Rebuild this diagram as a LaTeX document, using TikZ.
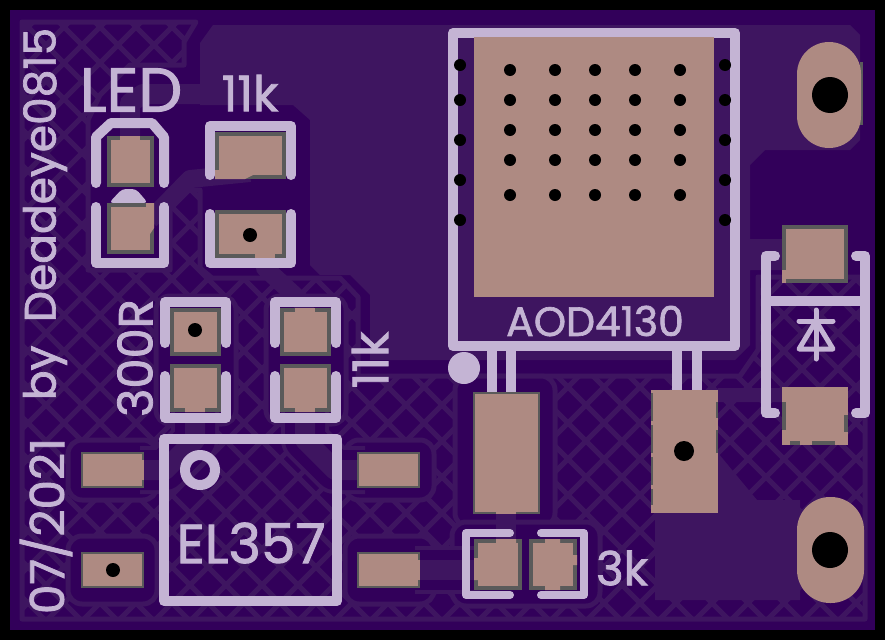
\documentclass[tikz,border=0pt]{standalone}
\usepackage{fontspec}
\setsansfont{Poppins}[FakeBold=1.6]
\usetikzlibrary{calc}
\definecolor{boardcol}{HTML}{32005A}
\definecolor{zonecol}{HTML}{3E1560}
\definecolor{padcu}{HTML}{AE8A82}
\definecolor{padgray}{HTML}{5A5A5A}
\definecolor{silkcol}{HTML}{C4B4D4}
\tikzset{
	silkline/.style={draw=silkcol, line width=10pt, line cap=round, line join=round},
	silktext/.style={text=silkcol, inner sep=0pt, font=\sffamily\fontsize{#1}{#1}\selectfont},
	drillhole/.style={fill=black},
	zonefill/.style={fill=zonecol},
	zoneedge/.style={draw=zonecol, line width=5pt, fill=boardcol, line join=round},
}
% pad with gray mask ring: x1,y1,x2,y2,ring
\newcommand{\smdpad}[5]{%
	\fill[padgray] (#1,#2) rectangle (#3,#4);
	\fill[padcu] ([shift={(#5,#5)}]#1,#2) rectangle ([shift={(-#5,-#5)}]#3,#4);
}
% trace with its clearance
\newcommand{\zonetrace}[2]{%
	\draw[line width=#1pt, zonecol, line join=round] #2;
}
\newcommand{\cleartrace}[2]{%
	\draw[line width=#1pt+28pt, zonecol, line join=round] #2;
	\draw[line width=#1pt+20pt, boardcol, line join=round] #2;
	\draw[line width=#1pt, zonecol, line join=round] #2;
}
\newcommand{\hatchedge}{(22,22) -- (196,22) -- (184,42) -- (184,65) -- (130,65) -- (100,95) -- (88,120) -- (88,270)
	-- (170,270) -- (170,190) -- (200,190) -- (200,268) -- (212,278) -- (340,278) -- (358,297) -- (358,376)
	-- (740,376) -- (758,350) -- (758,277) -- (865,277) -- (865,619) -- (22,619) -- cycle}
\begin{document}
\begin{tikzpicture}[x=1pt,y=-1pt]
	\useasboundingbox (0,0) rectangle (885,640);
	\fill[black] (0,0) rectangle (885,640);
	\fill[boardcol] (10,10) rectangle (875,630);%board

	% hatched zone
	\begin{scope}
		\clip \hatchedge;
		\foreach \k in {19,55,...,1531} {
			\draw[zonecol, line width=5pt] (\k,0) -- ++(-700,700);
		}
		\foreach \k in {-719,-683,...,865} {
			\draw[zonecol, line width=5pt] (\k,0) -- ++(700,700);
		}
	\end{scope}
	\draw[zonecol, line width=5pt, line join=round] \hatchedge;

	% clearance round the pads
	\draw[zoneedge, rounded corners=14pt] (68,440) rectangle (157,500);
	\draw[zoneedge, rounded corners=14pt] (68,536) rectangle (157,604);
	\draw[zoneedge, rounded corners=14pt] (345,440) rectangle (434,500);
	\draw[zoneedge, rounded corners=14pt] (345,536) rectangle (434,604);
	\draw[zoneedge, rounded corners=14pt] (156,296) rectangle (236,424);
	\draw[zoneedge, rounded corners=14pt] (266,296) rectangle (346,424);
	\draw[zoneedge, rounded corners=14pt] (455,376) rectangle (555,527);
	\draw[zoneedge, rounded corners=14pt] (452,522) rectangle (600,606);

	% main copper
	\fill[zonefill] (213,25) -- (850,25) -- (860,35) -- (860,140) -- (850,150) -- (765,150) -- (750,165)
	-- (750,239) -- (785,239) -- (785,270) -- (750,270) -- (750,345) -- (735,360) -- (370,360) -- (370,295)
	-- (350,275) -- (320,275) -- (310,265) -- (310,120) -- (293,105) -- (200,105) -- (200,43) -- cycle;
	\fill[zonefill] (718,388) -- (782,388) -- (782,402) -- (718,402) -- (718,453) -- (757,500) -- (800,500)
	-- (800,600) -- (655,600) -- (655,513) -- cycle;

	% traces
	\zonetrace{20}{(130,136) -- (130,103) -- (143,94) -- (205,94)}
	\zonetrace{18}{(250,173) -- (190,179) -- (150,220)}
	\zonetrace{18}{(265,250) -- (265,268) -- (305,305) -- (305,320)}
	\cleartrace{20}{(305,405) -- (305,440) -- (335,470) -- (365,470)}
	\cleartrace{20}{(195,405) -- (195,440) -- (165,470) -- (140,470)}
	\cleartrace{20}{(415,570) -- (480,570)}
	\zonetrace{20}{(506,510) -- (506,545)}

	% silk under the pads
	\draw[silkline] (96,183) -- (96,137) -- (111,123) -- (152,123) -- (164,137) -- (164,183);%LED
	\draw[silkline] (96,207) -- (96,263) -- (164,263) -- (164,207);
	\fill[silkcol, rounded corners=4pt] (109,203) -- (122,189) -- (136,189) -- (148,203) -- cycle;
	\draw[silkline] (210,175) -- (210,126) -- (291,126) -- (291,175);%top 11k
	\draw[silkline] (210,214) -- (210,263) -- (291,263) -- (291,214);
	\draw[silkline] (165,343) -- (165,302) -- (226,302) -- (226,343);%300R
	\draw[silkline] (165,376) -- (165,418) -- (226,418) -- (226,376);
	\draw[silkline] (275,343) -- (275,302) -- (336,302) -- (336,343);%side 11k
	\draw[silkline] (275,376) -- (275,418) -- (336,418) -- (336,376);
	\draw[silkline] (164,439) rectangle (337,601);%EL357
	\draw[silkline] (200,470) circle (15);
	\draw[silkline, line cap=butt] (453,33) rectangle (735,346);%AOD4130
	\fill[silkcol] (464,368) circle (16);
	\foreach \x in {492,511,677,697} {
		\draw[silkline, line cap=butt] (\x,351) -- (\x,392);
	}
	\draw[silkline] (775,256) -- (766,256) -- (766,413) -- (775,413);%diode
	\draw[silkline] (856,256) -- (865,256) -- (865,413) -- (856,413);
	\draw[silkline, line cap=butt] (766,301) -- (865,301);
	\draw[silkline, line width=5pt, line cap=round] (816,310) -- (816,359);
	\draw[silkline, line width=5pt] (799,321) -- (833,321);
	\draw[silkline, line width=5pt] (816,321) -- (799,349) -- (833,349) -- cycle;
	\draw[silkline, line width=8pt] (510,533) -- (466,533) -- (466,595) -- (510,595);%3k
	\draw[silkline, line width=8pt] (541,533) -- (584,533) -- (584,595) -- (541,595);

	% pads
	\smdpad{107}{136}{154}{187}{4}
	\fill[padcu] (120,136) rectangle (140,140);
	\smdpad{107}{203}{154}{254}{4}
	\fill[padcu] (146,203) -- (154,203) -- (154,228) -- (150,234) -- (146,234) -- cycle;
	\smdpad{215}{132}{286}{179}{4}
	\fill[padcu] (215,170) -- (220,170) -- (250,170) -- (255,174) -- (245,179) -- (215,179) -- cycle;
	\smdpad{215}{210}{286}{258}{4}
	\fill[padcu] (255,250) rectangle (275,258);
	\smdpad{170}{308}{221}{356}{4}
	\smdpad{170}{364}{221}{412}{4}
	\fill[padcu] (185,405) rectangle (205,412);
	\smdpad{280}{308}{331}{356}{4}
	\fill[padcu] (295,308) rectangle (315,313);
	\smdpad{280}{364}{331}{412}{4}
	\fill[padcu] (295,405) rectangle (315,412);
	\smdpad{81}{452}{144}{488}{2}
	\fill[padcu] (140,460) rectangle (144,480);
	\smdpad{81}{552}{144}{588}{2}
	\smdpad{357}{452}{420}{488}{2}
	\smdpad{357}{552}{420}{588}{2}
	\fill[padcu] (416,560) rectangle (420,580);
	\fill[padcu] (474,37) rectangle (714,297);%big tab
	\smdpad{473}{392}{540}{514}{2}
	\fill[padcu] (496,510) rectangle (516,514);
	\fill[padcu] (651,390) rectangle (718,513);
	\draw[padgray, line width=2pt, dash pattern=on 28pt off 4pt] (652,393) -- (652,505);
	\draw[padgray, line width=2pt] (717,402) -- (717,418) (717,430) -- (717,453);
	\smdpad{782}{225}{848}{283}{4}
	\fill[padcu] (782,270) rectangle (786,283);
	\fill[padcu] (782,387) rectangle (848,445);
	\draw[padgray, line width=4pt] (784,402) -- (784,430) (846,415) -- (846,432) (790,443) -- (800,443) (812,443) -- (835,443);
	\smdpad{474}{539}{522}{590}{4}
	\fill[padcu] (496,539) rectangle (516,543) (474,558) rectangle (478,580);
	\smdpad{529}{539}{577}{590}{4}
	\fill[padcu] (545,539) rectangle (560,543) (573,555) rectangle (577,565) (545,586) rectangle (560,590);
	\fill[padgray] (860,62) rectangle (863,125);
	\fill[padcu, rounded corners=32pt] (797,42) rectangle (861,148);%top mount
	\fill[padcu, rounded corners=33pt] (797,497) rectangle (864,603);%bottom mount

	% holes
	\fill[drillhole] (830,95) circle (18);
	\fill[drillhole] (830,550) circle (18);
	\fill[drillhole] (684,451) circle (10);
	\fill[drillhole] (250,235) circle (7);
	\fill[drillhole] (195,330) circle (7);
	\fill[drillhole] (113,570) circle (7);
	\foreach \x in {510,555,595,635,680} {
		\foreach \y in {70,100,130,160,195} {
			\fill[drillhole] (\x,\y) circle (6);
		}
	}
	\foreach \y in {65,100,140,180,220} {
		\fill[drillhole] (460,\y) circle (6);
		\fill[drillhole] (725,\y) circle (6);
	}

	% silk text
	\node[silktext=62] (ledlabel) at (131,90) {LED};
	\node[silktext=49] (topres) at (250,93) {11k};
	\node[silktext=48, rotate=90] (lowres) at (135,358) {300R};
	\node[silktext=49, rotate=90] (sideres) at (370,360) {11k};
	\node[silktext=41] (mosname) at (595,321) {AOD4130};
	\node[silktext=55] (optoname) at (251,543) {EL357};
	\node[silktext=47] (gateres) at (622,568) {3k};
	\node[silktext=44, rotate=90] (byline) at (45,214) {by\ \ Deadeye0815};
	\node[silktext=47, rotate=90] (dateline) at (46,526) {07/2021};
\end{tikzpicture}
\end{document}
